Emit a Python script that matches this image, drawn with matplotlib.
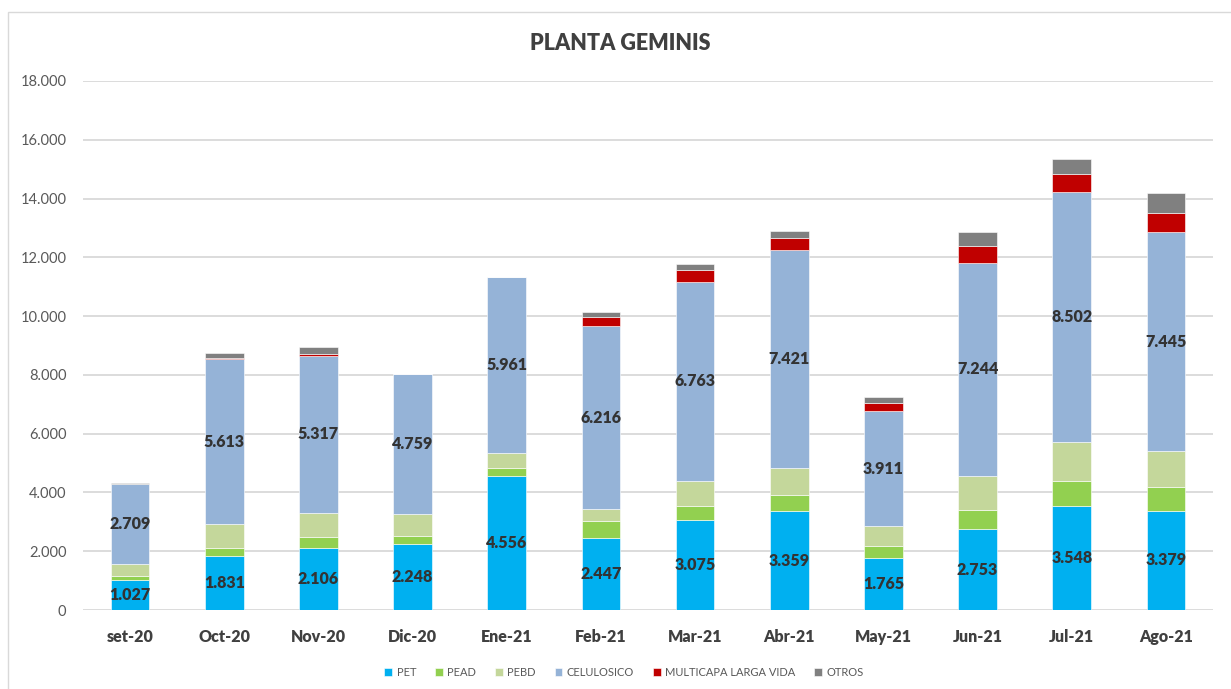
import numpy as np
import matplotlib
matplotlib.use('Agg')
import matplotlib.pyplot as plt
from matplotlib.patches import Rectangle

plt.rcParams['font.family'] = ['Lato', 'DejaVu Sans']

# Data (kg per month)
meses = ['set-20', 'Oct-20', 'Nov-20', 'Dic-20', 'Ene-21', 'Feb-21',
         'Mar-21', 'Abr-21', 'May-21', 'Jun-21', 'Jul-21', 'Ago-21']
pet = [1027, 1831, 2106, 2248, 4556, 2447, 3075, 3359, 1765, 2753, 3548, 3379]
pead = [140, 285, 390, 280, 280, 590, 460, 560, 420, 660, 840, 820]
pebd = [410, 810, 820, 750, 520, 400, 860, 900, 670, 1150, 1330, 1210]
celulosico = [2709, 5613, 5317, 4759, 5961, 6216, 6763, 7421, 3911, 7244, 8502, 7445]
multicapa = [0, 40, 70, 0, 0, 300, 420, 420, 280, 580, 610, 640]
otros = [30, 150, 250, 0, 20, 200, 180, 240, 200, 470, 530, 700]

series = [
    ('PET', pet, '#00B0F0', True),
    ('PEAD', pead, '#92D050', False),
    ('PEBD', pebd, '#C4D79B', False),
    ('CELULOSICO', celulosico, '#95B3D7', True),
    ('MULTICAPA LARGA VIDA', multicapa, '#C00000', False),
    ('OTROS', otros, '#808080', False),
]


def miles(v):
    return f"{v:,.0f}".replace(',', '.')


fig = plt.figure(figsize=(12.31, 6.89), dpi=100)
fig.patches.append(Rectangle((8 / 1231, -0.01), 1.0, 1 - 12 / 689 + 0.01,
                             transform=fig.transFigure, fill=False,
                             edgecolor='#D9D9D9', linewidth=1.0))
ax = fig.add_axes([83 / 1231, 1 - 610 / 689, 1130 / 1231, 529 / 689])

x = np.arange(len(meses))
bottom = np.zeros(len(meses))
for name, vals, color, show in series:
    vals = np.array(vals, dtype=float)
    ax.bar(x, vals, 0.41, bottom=bottom, color=color, label=name,
           edgecolor='white', linewidth=0.4, zorder=3)
    if show:
        for xi, b, v in zip(x, bottom, vals):
            ax.text(xi, b + v / 2, miles(v), ha='center', va='center',
                    fontsize=11.5, fontweight='heavy', color='#333333', zorder=4)
    bottom += vals

ax.set_xlim(-0.5, len(meses) - 0.5)
ax.set_ylim(0, 18000)
ax.set_yticks(np.arange(0, 18001, 2000))
ax.set_yticklabels([miles(v) for v in np.arange(0, 18001, 2000)])
ax.set_xticks(x)
ax.set_xticklabels(meses, fontweight='heavy')
ax.yaxis.grid(True, color='#D9D9D9', linewidth=1.3, zorder=0)
ax.set_axisbelow(True)
for s in ax.spines.values():
    s.set_visible(False)
ax.tick_params(axis='y', length=0, pad=12, labelsize=10.5, labelcolor='#595959')
ax.tick_params(axis='x', length=0, pad=14, labelsize=11.5, labelcolor='#404040')

fig.text(620 / 1231, 1 - 44 / 689, 'PLANTA GEMINIS', ha='center', va='center',
         fontsize=15.5, fontweight='heavy', color='#404040')

ax.legend(loc='center', bbox_to_anchor=(624 / 1231, 1 - 672 / 689),
          bbox_transform=fig.transFigure, ncol=6, frameon=False,
          fontsize=8, handlelength=0.7, handleheight=0.7, handletextpad=0.4,
          columnspacing=1.7, labelcolor='#595959')

plt.savefig('out.png', dpi=100)
